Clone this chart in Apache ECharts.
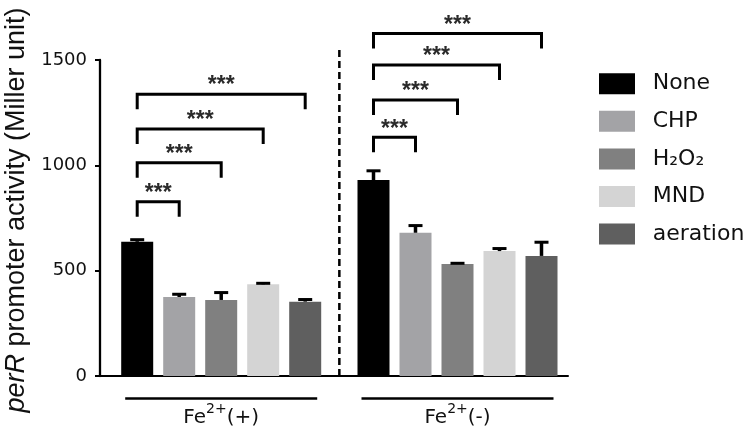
<!DOCTYPE html>
<html><head><meta charset="utf-8">
<script src="https://cdn.jsdelivr.net/npm/echarts@6/dist/echarts.min.js"></script>
<style>html,body{margin:0;padding:0;background:#fff}#c{width:756px;height:441px}</style>
</head><body><div id="c"></div>
<script>
// ---------- data ----------
const categories = ['Fe2+(+)', 'Fe2+(-)'];
const treatments = ['None', 'CHP', 'H2O2', 'MND', 'aeration'];
const meanNone = [637, 930];
const meanCHP = [375, 680];
const meanH2O2 = [361, 532];
const meanMND = [435, 593];
const meanAeration = [353, 570];
const errNone = [10, 44];
const errCHP = [13, 34];
const errH2O2 = [35, 3];
const errMND = [5, 12];
const errAeration = [10, 65];
const yTicks = [0, 500, 1000, 1500];
// [category index, from treatment, to treatment, bracket height]
const sigFePlus = [[0, 0, 1, 827], [0, 0, 2, 1012], [0, 0, 3, 1172], [0, 0, 4, 1338]];
const sigFeMinus = [[1, 0, 1, 1133], [1, 0, 2, 1310], [1, 0, 3, 1476], [1, 0, 4, 1626]];
const sigLabel = '***';

// ---------- layout / style ----------
const means = [meanNone, meanCHP, meanH2O2, meanMND, meanAeration];
const errs = [errNone, errCHP, errH2O2, errMND, errAeration];
const colors = ['#000000', '#a3a3a6', '#808080', '#d4d4d4', '#5f5f5f'];
const BAR_W = 32, GAP_RATIO = 0.3125, STEP = BAR_W * (1 + GAP_RATIO);
const MID = (treatments.length - 1) / 2;
const SEP_TOP = 1560;
const TXT = '#111';
const toSub = s => s.replace(/\d/g, d => String.fromCharCode(0x2080 + Number(d)));

const errData = [];
categories.forEach((c, ci) => treatments.forEach((t, ti) => errData.push([ci, ti, means[ti][ci], errs[ti][ci]])));
const sigData = sigFePlus.concat(sigFeMinus);

const chart = echarts.init(document.getElementById('c'), null, {renderer: 'canvas'});
chart.setOption({
  animation: false,
  backgroundColor: '#fff',
  grid: [
    {left: 103.05, top: 60, width: 472.6, height: 316, outerBoundsMode: 'none', containLabel: false},
    {left: 100, top: 60, width: 468, height: 316, outerBoundsMode: 'none', containLabel: false}
  ],
  xAxis: [
    {type: 'category', gridIndex: 0, data: categories,
     axisLine: {show: false}, axisTick: {show: false}, splitLine: {show: false},
     axisLabel: {margin: 30, color: TXT,
       formatter: v => v.replace(/^(\D+)(\d[+-])(.*)$/, '{b|$1}{sup|$2}{b|$3}'),
       rich: {
         b: {fontFamily: 'DejaVu Sans', fontSize: 20, lineHeight: 24, color: TXT},
         sup: {fontFamily: 'DejaVu Sans', fontSize: 14, lineHeight: 24, height: 6, verticalAlign: 'top', color: TXT}
       }}},
    {type: 'value', gridIndex: 1, min: 0, max: 1,
     axisLine: {show: true, onZero: false, lineStyle: {color: '#000', width: 2}},
     axisTick: {show: false}, axisLabel: {show: false}, splitLine: {show: false}}
  ],
  yAxis: [
    {type: 'value', gridIndex: 0, min: yTicks[0], max: yTicks[yTicks.length - 1], interval: yTicks[1] - yTicks[0],
     show: false, splitLine: {show: false}},
    {type: 'value', gridIndex: 1, min: yTicks[0], max: yTicks[yTicks.length - 1], interval: yTicks[1] - yTicks[0],
     axisLine: {show: true, lineStyle: {color: '#000', width: 2.3}},
     axisTick: {show: true, length: 5, lineStyle: {color: '#000', width: 2}},
     splitLine: {show: false},
     axisLabel: {margin: 13, color: TXT, fontFamily: 'DejaVu Sans', fontSize: 18, formatter: v => String(v)},
     name: '{i|perR} promoter activity (Miller unit)',
     nameLocation: 'middle', nameGap: 61,
     nameTextStyle: {fontFamily: 'Liberation Sans', fontSize: 27, color: TXT, padding: [0, 0, 0, 16],
       rich: {i: {fontFamily: 'Liberation Sans', fontSize: 27, fontStyle: 'italic', color: TXT}}}}
  ],
  legend: {
    orient: 'vertical', left: 594, top: 67.7, itemWidth: 36, itemHeight: 21, itemGap: 15.6,
    icon: 'rect', data: treatments,
    formatter: n => toSub(n),
    textStyle: {fontFamily: 'DejaVu Sans', fontSize: 22, color: TXT, lineHeight: 21, padding: [0, 0, 0, 12.7]}
  },
  series: treatments.map((t, i) => ({
    type: 'bar', name: t, xAxisIndex: 0, yAxisIndex: 0, data: means[i],
    barWidth: BAR_W, barGap: (GAP_RATIO * 100) + '%', itemStyle: {color: colors[i]}, silent: true
  })).concat([
    {type: 'custom', name: 'err', xAxisIndex: 0, yAxisIndex: 0, data: errData, clip: false, silent: true, z: 5,
     encode: {x: 0, y: 2},
     renderItem: (p, api) => {
       const ci = api.value(0), ti = api.value(1), m = api.value(2), e = api.value(3);
       const b = api.coord([ci, m]), t = api.coord([ci, m + e]);
       const x = b[0] + (ti - MID) * STEP;
       return {type: 'group', children: [
         {type: 'line', shape: {x1: x, y1: b[1], x2: x, y2: t[1]}, style: {stroke: '#000', lineWidth: 3.5}},
         {type: 'line', shape: {x1: x - 7, y1: t[1], x2: x + 7, y2: t[1]}, style: {stroke: '#000', lineWidth: 3}}
       ]};
     }},
    {type: 'custom', name: 'sig', xAxisIndex: 0, yAxisIndex: 0, data: sigData, clip: false, silent: true, z: 5,
     encode: {x: 0, y: 3},
     renderItem: (p, api) => {
       const ci = api.value(0), f = api.value(1), to = api.value(2), h = api.value(3);
       const c = api.coord([ci, h]);
       const x1 = c[0] + (f - MID) * STEP, x2 = c[0] + (to - MID) * STEP, y = c[1];
       return {type: 'group', children: [
         {type: 'polyline', shape: {points: [[x1, y + 15], [x1, y], [x2, y], [x2, y + 15]]},
          style: {stroke: '#000', lineWidth: 3, fill: null, lineJoin: 'miter'}},
         {type: 'text', x: (x1 + x2) / 2, y: y - 8,
          style: {text: sigLabel, fontFamily: 'Liberation Sans', fontSize: 23, fontWeight: 'bold', fill: '#2a2a2a',
                  align: 'center', verticalAlign: 'middle', lineHeight: 23}}
       ]};
     }},
    {type: 'custom', name: 'sep', xAxisIndex: 0, yAxisIndex: 0, data: [[0, 0]], clip: false, silent: true, z: 5,
     renderItem: (p, api) => {
       const b = api.coord([0, 0]), bw = api.size([1, 0])[0];
       const x = b[0] + bw / 2, top = api.coord([0, SEP_TOP])[1];
       return {type: 'line', shape: {x1: x, y1: b[1], x2: x, y2: top},
               style: {stroke: '#000', lineWidth: 2.5, lineDash: [7, 4]}};
     }},
    {type: 'custom', name: 'groupLine', xAxisIndex: 0, yAxisIndex: 0, data: categories.map((c, i) => [i, 0]),
     clip: false, silent: true, z: 5,
     renderItem: (p, api) => {
       const b = api.coord([api.value(0), 0]);
       return {type: 'line', shape: {x1: b[0] - 96, y1: b[1] + 22.5, x2: b[0] + 96, y2: b[1] + 22.5},
               style: {stroke: '#000', lineWidth: 2.5}};
     }}
  ])
});
</script>
</body></html>
